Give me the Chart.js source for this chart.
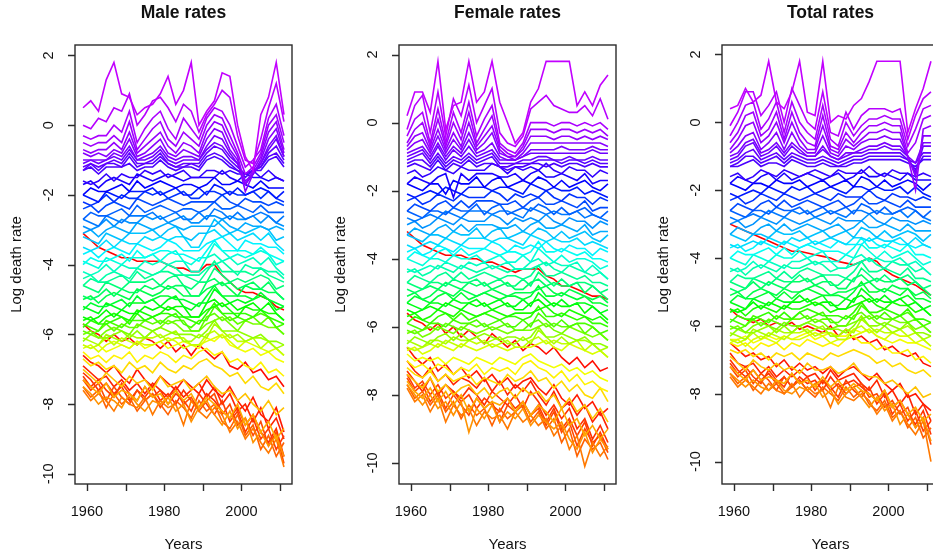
<!DOCTYPE html>
<html>
<head>
<meta charset="utf-8">
<title>Log death rates</title>
<script src="https://cdn.jsdelivr.net/npm/chart.js@4.4.1/dist/chart.umd.min.js"></script>
<style>
  html, body { margin: 0; padding: 0; background: #fff; overflow: hidden; }
  body { width: 933px; height: 559px; position: relative; }
  .panel { position: absolute; top: 0; width: 323px; height: 559px; }
  .panel canvas { display: block; }
</style>
</head>
<body>
<div class="panel" style="left:0px"><canvas id="maleChart" width="323" height="559"></canvas></div>
<div class="panel" style="left:324px"><canvas id="femaleChart" width="323" height="559"></canvas></div>
<div class="panel" style="left:647px"><canvas id="totalChart" width="323" height="559"></canvas></div>
<script>
// ==========================================
// DATA (log death rates)
// ==========================================
const years = [1959, 1961, 1963, 1965, 1967, 1969, 1971, 1973, 1975, 1977, 1979, 1981, 1983, 1985,
               1987, 1989, 1991, 1993, 1995, 1997, 1999, 2001, 2003, 2005, 2007, 2009, 2011];
const ages = [0, 1, 2, 3, 4, 5, 6, 8, 10, 12, 14, 16, 18, 20, 22,
              24, 26, 28, 30, 32, 34, 36, 38, 40, 42, 44, 46, 48, 50, 52, 54, 56,
              58, 60, 62, 64, 66, 68, 70, 72, 74, 76, 78, 80, 82, 84, 86, 88,
              90, 91, 92, 93, 94, 95, 96, 97, 98, 99, 100];
const yTicks = [-10, -8, -6, -4, -2, 0, 2];
const xTicks = [1960, 1970, 1980, 1990, 2000, 2010];
const xTickLabels = ['1960', '', '1980', '', '2000', ''];

const maleRates = [
  [-3.1,-3.3,-3.5,-3.6,-3.7,-3.8,-3.8,-3.9,-3.9,-3.9,-3.9,-4.0,-4.1,-4.1,-4.2,-4.2,-4.0,-4.0,-4.3,-4.5,-4.7,-4.8,-4.8,-4.9,-5.0,-5.2,-5.3],
  [-5.7,-5.9,-6.0,-6.2,-6.0,-6.2,-6.1,-6.3,-6.1,-6.2,-6.4,-6.2,-6.5,-6.3,-6.6,-6.3,-6.5,-6.7,-6.5,-6.9,-7.0,-6.8,-7.1,-7.0,-7.3,-7.2,-7.5],
  [-6.6,-6.8,-6.9,-7.1,-6.9,-7.2,-7.4,-7.0,-7.3,-7.5,-7.2,-7.4,-7.6,-7.3,-7.5,-7.7,-7.3,-7.6,-7.8,-7.5,-7.9,-8.2,-7.8,-8.3,-8.5,-8.1,-8.8],
  [-6.9,-7.1,-7.3,-7.2,-7.5,-7.3,-7.6,-7.4,-7.7,-7.4,-7.6,-7.8,-7.5,-7.8,-7.6,-7.4,-7.8,-7.5,-8.0,-7.7,-8.2,-8.0,-8.5,-8.1,-8.7,-8.4,-9.0],
  [-7.1,-7.3,-7.6,-7.4,-7.7,-7.5,-7.9,-7.6,-7.8,-7.5,-7.9,-7.7,-8.0,-7.6,-7.9,-8.1,-7.7,-7.9,-8.2,-8.4,-8.1,-8.6,-8.3,-8.8,-9.1,-8.7,-9.5],
  [-7.2,-7.5,-7.3,-7.6,-7.8,-7.4,-7.7,-7.9,-7.5,-7.8,-7.6,-8.0,-7.7,-7.9,-8.2,-7.7,-8.0,-8.3,-7.9,-8.5,-8.2,-8.8,-8.4,-9.0,-8.7,-9.3,-8.9],
  [-7.3,-7.6,-7.4,-7.9,-7.5,-7.8,-8.0,-7.6,-7.9,-7.7,-8.1,-7.8,-7.6,-8.0,-7.8,-8.2,-7.9,-7.7,-8.3,-8.0,-8.6,-8.4,-8.9,-8.5,-9.2,-8.8,-9.7],
  [-7.5,-7.8,-7.6,-8.1,-7.7,-8.0,-7.8,-8.2,-7.9,-7.7,-8.0,-8.3,-7.9,-8.1,-8.4,-7.9,-8.2,-8.0,-8.5,-8.7,-8.3,-8.9,-8.6,-9.3,-8.9,-9.5,-9.1],
  [-7.6,-7.9,-7.7,-7.9,-8.2,-7.8,-8.0,-8.1,-7.8,-8.3,-7.9,-8.1,-8.0,-8.6,-7.9,-8.2,-8.4,-8.1,-8.3,-8.8,-8.5,-9.0,-8.7,-9.1,-9.4,-9.0,-9.8],
  [-7.5,-7.7,-8.0,-7.8,-7.9,-8.1,-7.7,-8.0,-8.2,-7.9,-8.0,-7.8,-8.2,-8.0,-8.5,-8.1,-7.9,-8.3,-8.6,-8.2,-8.7,-8.4,-9.1,-8.8,-9.2,-8.9,-9.5],
  [-7.3,-7.5,-7.7,-7.4,-7.8,-7.6,-7.7,-7.9,-7.5,-7.8,-7.7,-8.0,-7.6,-7.9,-7.7,-8.1,-7.8,-8.0,-8.2,-8.4,-8.0,-8.6,-8.3,-8.8,-8.5,-9.0,-8.7],
  [-7.0,-7.2,-7.4,-7.1,-7.3,-7.5,-7.2,-7.4,-7.3,-7.6,-7.2,-7.5,-7.4,-7.3,-7.6,-7.4,-7.2,-7.5,-7.7,-7.6,-7.9,-7.7,-8.0,-8.2,-7.9,-8.3,-8.1],
  [-6.7,-6.9,-6.8,-7.0,-6.9,-7.1,-6.8,-7.0,-6.9,-7.1,-6.8,-7.0,-7.1,-6.9,-7.0,-6.8,-6.7,-6.9,-7.0,-7.2,-7.1,-7.4,-7.2,-7.5,-7.6,-7.4,-7.7],
  [-6.5,-6.7,-6.6,-6.8,-6.6,-6.7,-6.5,-6.8,-6.6,-6.7,-6.5,-6.6,-6.8,-6.6,-6.7,-6.5,-6.4,-6.6,-6.5,-6.8,-6.7,-6.9,-7.0,-6.8,-7.1,-7.0,-7.2],
  [-6.3,-6.4,-6.3,-6.5,-6.4,-6.3,-6.4,-6.2,-6.4,-6.3,-6.2,-6.4,-6.3,-6.2,-6.3,-6.4,-6.1,-6.2,-6.0,-6.3,-6.4,-6.5,-6.4,-6.6,-6.5,-6.7,-6.8],
  [-6.4,-6.3,-6.5,-6.3,-6.2,-6.3,-6.4,-6.2,-6.3,-6.3,-6.2,-6.1,-6.2,-6.4,-6.3,-6.3,-6.2,-6.1,-6.0,-6.2,-6.4,-6.2,-6.3,-6.4,-6.5,-6.4,-6.6],
  [-6.3,-6.4,-6.3,-6.1,-6.3,-6.1,-6.2,-6.3,-6.1,-6.1,-6.0,-6.2,-6.1,-6.1,-6.3,-6.3,-6.0,-5.9,-6.1,-6.0,-6.2,-6.2,-6.1,-6.4,-6.2,-6.4,-6.6],
  [-6.1,-6.2,-6.3,-6.0,-6.1,-6.2,-6.0,-6.1,-6.1,-5.9,-6.1,-6.0,-5.9,-6.2,-6.2,-6.0,-6.1,-5.7,-5.9,-6.1,-6.0,-6.2,-6.1,-6.1,-6.2,-6.4,-6.3],
  [-6.2,-6.0,-6.1,-6.1,-6.0,-5.9,-6.1,-5.9,-6.1,-5.9,-5.8,-5.9,-6.0,-6.0,-6.0,-6.1,-5.9,-5.6,-5.9,-5.9,-5.9,-6.0,-6.1,-6.0,-6.2,-6.2,-6.3],
  [-6.0,-5.9,-6.1,-5.9,-5.8,-5.9,-6.0,-5.7,-5.8,-5.9,-5.8,-5.6,-5.7,-5.9,-5.9,-5.9,-5.7,-5.6,-5.5,-5.7,-5.9,-5.6,-5.7,-5.7,-5.8,-5.8,-6.0],
  [-5.9,-6.0,-5.9,-5.7,-5.9,-5.7,-5.8,-5.8,-5.6,-5.7,-5.6,-5.7,-5.6,-5.6,-5.9,-5.9,-5.5,-5.4,-5.6,-5.5,-5.7,-5.6,-5.5,-5.7,-5.5,-5.8,-6.0],
  [-5.7,-5.8,-5.9,-5.6,-5.7,-5.8,-5.6,-5.6,-5.6,-5.5,-5.7,-5.5,-5.4,-5.7,-5.8,-5.6,-5.6,-5.2,-5.4,-5.6,-5.5,-5.6,-5.5,-5.4,-5.5,-5.8,-5.7],
  [-5.8,-5.6,-5.7,-5.7,-5.6,-5.5,-5.7,-5.4,-5.6,-5.5,-5.4,-5.4,-5.5,-5.5,-5.6,-5.7,-5.4,-5.1,-5.4,-5.4,-5.4,-5.4,-5.5,-5.3,-5.5,-5.6,-5.7],
  [-5.6,-5.5,-5.7,-5.5,-5.4,-5.5,-5.6,-5.3,-5.4,-5.5,-5.4,-5.2,-5.3,-5.5,-5.5,-5.5,-5.3,-5.2,-5.1,-5.3,-5.5,-5.2,-5.3,-5.3,-5.4,-5.4,-5.6],
  [-5.5,-5.6,-5.5,-5.3,-5.5,-5.3,-5.4,-5.4,-5.2,-5.3,-5.2,-5.3,-5.2,-5.2,-5.5,-5.5,-5.1,-5.0,-5.2,-5.1,-5.3,-5.2,-5.1,-5.3,-5.1,-5.4,-5.6],
  [-5.2,-5.3,-5.4,-5.1,-5.2,-5.3,-5.1,-5.1,-5.1,-5.0,-5.2,-5.0,-4.9,-5.2,-5.3,-5.1,-5.1,-4.7,-4.9,-5.1,-5.0,-5.1,-5.0,-4.9,-5.0,-5.3,-5.2],
  [-5.3,-5.1,-5.2,-5.2,-5.1,-5.0,-5.2,-4.9,-5.1,-5.0,-4.9,-4.9,-5.0,-5.0,-5.1,-5.2,-4.9,-4.6,-4.9,-4.9,-4.9,-4.9,-5.0,-4.8,-5.0,-5.1,-5.2],
  [-5.0,-4.9,-5.1,-4.9,-4.8,-4.9,-5.0,-4.7,-4.8,-4.9,-4.8,-4.6,-4.7,-4.9,-4.9,-4.9,-4.7,-4.6,-4.5,-4.7,-4.9,-4.6,-4.7,-4.7,-4.8,-4.8,-5.0],
  [-4.9,-5.0,-4.9,-4.7,-4.9,-4.7,-4.8,-4.8,-4.6,-4.7,-4.6,-4.7,-4.6,-4.6,-4.9,-4.9,-4.5,-4.4,-4.6,-4.5,-4.7,-4.6,-4.5,-4.7,-4.5,-4.8,-5.0],
  [-4.6,-4.7,-4.8,-4.5,-4.6,-4.7,-4.5,-4.5,-4.5,-4.4,-4.6,-4.4,-4.3,-4.6,-4.7,-4.5,-4.5,-4.1,-4.3,-4.5,-4.4,-4.5,-4.4,-4.3,-4.4,-4.7,-4.6],
  [-4.6,-4.4,-4.5,-4.5,-4.4,-4.3,-4.5,-4.2,-4.4,-4.3,-4.2,-4.2,-4.3,-4.3,-4.4,-4.5,-4.2,-3.9,-4.2,-4.2,-4.2,-4.2,-4.3,-4.1,-4.3,-4.4,-4.5],
  [-4.4,-4.3,-4.5,-4.3,-4.2,-4.3,-4.4,-4.1,-4.2,-4.3,-4.2,-4.0,-4.1,-4.3,-4.3,-4.3,-4.1,-4.0,-3.9,-4.1,-4.3,-4.0,-4.1,-4.1,-4.2,-4.2,-4.4],
  [-4.2,-4.3,-4.2,-4.0,-4.2,-4.0,-4.1,-4.1,-3.9,-4.0,-3.9,-4.0,-3.9,-3.9,-4.2,-4.2,-3.8,-3.7,-3.9,-3.8,-4.0,-3.9,-3.8,-4.0,-3.8,-4.1,-4.3],
  [-3.9,-4.0,-4.1,-3.8,-3.9,-4.0,-3.8,-3.8,-3.8,-3.7,-3.9,-3.7,-3.6,-3.9,-4.0,-3.8,-3.8,-3.4,-3.6,-3.8,-3.7,-3.8,-3.7,-3.6,-3.7,-4.0,-3.9],
  [-4.0,-3.8,-3.9,-3.9,-3.8,-3.7,-3.9,-3.6,-3.8,-3.7,-3.6,-3.6,-3.7,-3.7,-3.8,-3.9,-3.6,-3.3,-3.6,-3.6,-3.6,-3.6,-3.7,-3.5,-3.7,-3.8,-3.9],
  [-3.7,-3.6,-3.8,-3.6,-3.5,-3.6,-3.7,-3.4,-3.5,-3.6,-3.5,-3.3,-3.4,-3.6,-3.6,-3.6,-3.4,-3.3,-3.2,-3.4,-3.6,-3.3,-3.4,-3.4,-3.5,-3.5,-3.7],
  [-3.5,-3.6,-3.5,-3.3,-3.5,-3.3,-3.4,-3.4,-3.2,-3.3,-3.2,-3.3,-3.2,-3.2,-3.5,-3.5,-3.1,-3.0,-3.2,-3.1,-3.3,-3.2,-3.1,-3.3,-3.1,-3.4,-3.6],
  [-3.2,-3.3,-3.4,-3.1,-3.2,-3.3,-3.1,-3.1,-3.1,-3.0,-3.2,-3.0,-2.9,-3.2,-3.3,-3.1,-3.1,-2.7,-2.9,-3.1,-3.0,-3.1,-3.0,-2.9,-3.0,-3.3,-3.2],
  [-3.1,-3.0,-3.2,-3.0,-2.9,-3.0,-3.1,-2.8,-2.9,-3.0,-2.9,-2.8,-2.9,-3.0,-2.9,-2.9,-2.9,-2.9,-2.7,-2.9,-3.0,-2.8,-2.9,-2.9,-3.0,-2.9,-3.0],
  [-2.9,-3.0,-2.9,-2.7,-2.9,-2.7,-2.8,-2.8,-2.6,-2.7,-2.6,-2.8,-2.7,-2.6,-2.8,-2.8,-2.6,-2.6,-2.7,-2.6,-2.7,-2.7,-2.6,-2.8,-2.6,-2.8,-2.9],
  [-2.7,-2.8,-2.9,-2.6,-2.7,-2.8,-2.6,-2.6,-2.6,-2.5,-2.7,-2.6,-2.5,-2.7,-2.7,-2.5,-2.7,-2.4,-2.5,-2.7,-2.5,-2.7,-2.6,-2.5,-2.6,-2.8,-2.6],
  [-2.7,-2.5,-2.6,-2.6,-2.5,-2.4,-2.6,-2.3,-2.5,-2.4,-2.3,-2.4,-2.5,-2.4,-2.4,-2.5,-2.4,-2.2,-2.4,-2.4,-2.3,-2.4,-2.5,-2.3,-2.5,-2.5,-2.5],
  [-2.4,-2.3,-2.5,-2.3,-2.2,-2.3,-2.4,-2.1,-2.2,-2.3,-2.2,-2.1,-2.2,-2.3,-2.2,-2.2,-2.2,-2.2,-2.0,-2.2,-2.3,-2.1,-2.2,-2.2,-2.3,-2.2,-2.3],
  [-2.2,-2.3,-2.2,-2.0,-2.2,-2.0,-2.1,-2.1,-1.9,-2.0,-1.9,-2.1,-2.0,-1.9,-2.1,-2.1,-1.9,-1.9,-2.0,-1.9,-2.0,-2.0,-1.9,-2.1,-1.9,-2.1,-2.2],
  [-2.0,-2.1,-2.2,-1.9,-2.0,-2.1,-1.9,-1.9,-1.9,-1.8,-2.0,-1.9,-1.8,-2.0,-2.0,-1.8,-2.0,-1.7,-1.8,-2.0,-1.8,-2.0,-1.9,-1.8,-1.9,-2.1,-1.9],
  [-2.0,-1.8,-1.9,-1.9,-1.8,-1.7,-1.9,-1.6,-1.8,-1.7,-1.6,-1.7,-1.8,-1.7,-1.7,-1.8,-1.7,-1.5,-1.7,-1.7,-1.6,-1.7,-1.8,-1.6,-1.8,-1.8,-1.8],
  [-1.7,-1.6,-1.8,-1.6,-1.5,-1.6,-1.7,-1.4,-1.5,-1.6,-1.5,-1.4,-1.5,-1.6,-1.5,-1.5,-1.5,-1.5,-1.3,-1.5,-1.6,-1.4,-1.5,-1.5,-1.6,-1.5,-1.6],
  [-1.6,-1.7,-1.6,-1.4,-1.6,-1.4,-1.5,-1.5,-1.3,-1.4,-1.3,-1.5,-1.4,-1.3,-1.5,-1.5,-1.3,-1.3,-1.4,-1.3,-1.4,-1.4,-1.3,-1.5,-1.3,-1.5,-1.6],
  [-1.3,-1.2,-1.4,-1.2,-1.2,-1.2,-1.1,-1.3,-1.2,-1.2,-1.0,-1.2,-1.3,-1.2,-1.2,-1.3,-1.0,-0.9,-1.0,-1.2,-1.3,-1.4,-1.3,-1.3,-1.0,-0.9,-1.2],
  [-1.3,-1.1,-1.3,-1.1,-1.1,-1.2,-0.9,-1.2,-1.1,-1.1,-0.9,-1.1,-1.2,-1.2,-1.1,-1.2,-0.9,-0.8,-0.9,-1.1,-1.3,-1.5,-1.3,-1.2,-0.9,-0.8,-1.1],
  [-1.2,-1.1,-1.2,-1.1,-1.0,-1.1,-0.8,-1.1,-1.1,-1.0,-0.8,-1.1,-1.2,-1.1,-1.1,-1.1,-0.8,-0.6,-0.7,-1.0,-1.2,-1.4,-1.3,-1.2,-0.8,-0.6,-1.0],
  [-1.1,-1.0,-1.1,-1.0,-0.9,-1.0,-0.7,-1.0,-1.0,-0.9,-0.7,-1.0,-1.1,-1.0,-1.0,-1.0,-0.7,-0.5,-0.6,-0.9,-1.1,-1.7,-1.4,-1.1,-0.7,-0.4,-0.9],
  [-1.0,-1.0,-1.0,-1.0,-0.8,-0.9,-0.6,-1.0,-0.9,-0.8,-0.6,-0.9,-1.0,-0.9,-0.9,-1.0,-0.6,-0.3,-0.4,-0.8,-1.1,-1.6,-1.4,-1.1,-0.6,-0.3,-0.9],
  [-0.8,-0.9,-0.8,-0.9,-0.7,-0.8,-0.4,-0.9,-0.8,-0.6,-0.4,-0.8,-0.9,-0.7,-0.8,-0.9,-0.4,-0.1,-0.2,-0.7,-1.0,-1.9,-1.4,-1.0,-0.4,-0.1,-0.8],
  [-0.7,-0.8,-0.7,-0.7,-0.5,-0.7,-0.2,-0.8,-0.6,-0.4,-0.2,-0.6,-0.8,-0.5,-0.6,-0.8,-0.2,0.1,0.0,-0.5,-0.9,-1.7,-1.3,-0.9,-0.2,0.1,-0.7],
  [-0.5,-0.6,-0.5,-0.5,-0.3,-0.5,0.1,-0.7,-0.4,-0.1,0.1,-0.4,-0.6,-0.2,-0.4,-0.6,0.0,0.3,0.2,-0.3,-0.8,-1.4,-1.2,-0.8,0.0,0.3,-0.5],
  [-0.3,-0.4,-0.3,-0.3,0.0,-0.2,0.4,-0.5,-0.1,0.2,0.4,-0.1,-0.4,0.2,-0.1,-0.4,0.2,0.5,0.4,0.0,-0.6,-1.2,-1.0,-0.7,0.2,0.6,-0.3],
  [0.0,-0.1,0.2,0.1,0.5,0.4,0.9,0.0,0.3,0.7,0.8,0.5,0.1,0.6,0.4,-0.2,0.3,0.6,1.0,0.8,-0.3,-1.0,-1.1,-0.4,0.5,1.2,0.1],
  [0.5,0.7,0.4,1.3,1.8,0.9,0.8,0.3,0.5,0.6,0.9,1.4,0.6,1.0,1.8,0.0,0.4,0.7,1.5,1.4,0.0,-0.9,-1.3,0.3,0.8,1.8,0.3]
];

const femaleRates = [
  [-3.2,-3.4,-3.6,-3.7,-3.8,-3.9,-3.9,-3.9,-4.0,-4.0,-4.1,-4.1,-4.2,-4.3,-4.4,-4.3,-4.3,-4.3,-4.5,-4.6,-4.8,-4.8,-4.9,-5.0,-5.1,-5.1,-5.2],
  [-5.6,-5.8,-5.9,-6.1,-5.9,-6.2,-6.0,-6.3,-6.1,-6.3,-6.5,-6.2,-6.4,-6.6,-6.4,-6.7,-6.5,-6.6,-6.8,-6.6,-6.9,-7.1,-6.9,-7.2,-7.0,-7.3,-7.2],
  [-6.6,-6.9,-7.1,-6.9,-7.3,-7.1,-7.4,-7.2,-7.5,-7.3,-7.6,-7.4,-7.7,-7.5,-7.8,-7.6,-7.5,-7.8,-8.0,-7.7,-8.1,-8.3,-8.0,-8.4,-8.2,-8.6,-8.4],
  [-7.0,-7.3,-7.5,-7.2,-7.6,-7.4,-7.7,-7.5,-7.6,-7.8,-7.5,-7.9,-7.6,-8.0,-7.7,-7.9,-7.6,-8.0,-8.3,-7.9,-8.4,-8.2,-8.6,-8.3,-8.8,-8.5,-9.0],
  [-7.3,-7.6,-7.9,-7.5,-8.0,-7.7,-7.9,-8.1,-7.8,-8.0,-8.3,-7.9,-8.1,-8.3,-8.0,-8.4,-7.9,-8.2,-8.6,-8.3,-8.7,-8.4,-9.0,-8.7,-9.3,-8.9,-9.4],
  [-7.4,-7.8,-7.6,-8.0,-7.7,-8.1,-7.9,-8.2,-8.0,-8.4,-8.1,-8.3,-8.5,-8.1,-8.4,-8.2,-8.6,-8.3,-8.8,-8.4,-9.0,-8.7,-9.2,-8.8,-9.5,-9.1,-9.6],
  [-7.5,-7.9,-7.7,-8.2,-7.9,-8.4,-8.0,-8.3,-8.6,-8.1,-8.4,-8.2,-8.8,-8.3,-8.5,-8.2,-8.6,-8.4,-8.9,-8.5,-9.1,-8.8,-9.5,-9.0,-9.4,-9.2,-9.7],
  [-7.7,-8.1,-7.9,-8.3,-8.0,-8.5,-8.2,-8.7,-8.3,-8.6,-8.4,-8.9,-8.4,-8.7,-8.5,-8.3,-8.8,-8.5,-9.0,-8.7,-9.4,-9.0,-9.8,-9.3,-9.6,-9.4,-9.9],
  [-7.8,-8.2,-8.0,-8.5,-8.1,-8.8,-8.3,-8.6,-8.4,-8.9,-8.5,-8.7,-8.6,-9.0,-8.5,-8.8,-8.6,-8.9,-8.7,-9.2,-8.9,-9.6,-9.2,-10.1,-9.4,-9.8,-9.5],
  [-7.7,-8.0,-8.3,-8.0,-8.4,-8.2,-8.6,-8.2,-9.1,-8.4,-8.7,-8.3,-8.8,-8.5,-8.7,-8.4,-8.9,-8.6,-8.8,-9.0,-8.8,-9.3,-9.6,-9.1,-9.7,-9.3,-9.6],
  [-7.6,-7.9,-8.1,-7.8,-8.2,-7.9,-8.3,-8.0,-8.5,-8.1,-8.4,-8.2,-8.3,-8.1,-8.5,-8.2,-8.6,-8.3,-8.5,-8.8,-8.4,-8.9,-8.7,-9.2,-8.9,-9.3,-9.0],
  [-7.4,-7.6,-7.8,-7.5,-7.9,-7.7,-8.0,-7.8,-7.7,-8.0,-7.8,-8.1,-7.9,-7.8,-8.1,-7.8,-8.0,-7.9,-8.2,-8.0,-8.4,-8.1,-8.5,-8.3,-8.7,-8.4,-8.8],
  [-7.2,-7.4,-7.5,-7.3,-7.6,-7.4,-7.6,-7.5,-7.4,-7.7,-7.5,-7.6,-7.7,-7.4,-7.6,-7.5,-7.3,-7.6,-7.5,-7.8,-7.6,-7.9,-7.7,-8.0,-8.1,-7.8,-8.2],
  [-7.0,-7.2,-7.1,-7.3,-7.1,-7.2,-7.4,-7.2,-7.3,-7.1,-7.4,-7.2,-7.3,-7.2,-7.4,-7.1,-7.0,-7.2,-7.3,-7.5,-7.3,-7.6,-7.4,-7.7,-7.6,-7.8,-7.9],
  [-6.8,-7.0,-6.9,-7.0,-6.9,-7.1,-6.9,-7.0,-7.1,-6.9,-7.0,-7.1,-6.9,-7.0,-7.1,-6.9,-6.8,-7.0,-7.1,-7.2,-7.1,-7.3,-7.2,-7.4,-7.3,-7.5,-7.6],
  [-6.7,-6.6,-6.8,-6.7,-6.5,-6.6,-6.7,-6.5,-6.6,-6.7,-6.6,-6.5,-6.6,-6.7,-6.6,-6.6,-6.6,-6.5,-6.4,-6.6,-6.7,-6.5,-6.6,-6.7,-6.8,-6.7,-6.9],
  [-6.6,-6.7,-6.6,-6.5,-6.6,-6.4,-6.5,-6.6,-6.4,-6.5,-6.4,-6.6,-6.5,-6.4,-6.6,-6.6,-6.4,-6.3,-6.5,-6.4,-6.5,-6.5,-6.4,-6.7,-6.5,-6.7,-6.9],
  [-6.4,-6.5,-6.6,-6.4,-6.4,-6.5,-6.3,-6.4,-6.4,-6.3,-6.5,-6.4,-6.3,-6.5,-6.5,-6.3,-6.5,-6.1,-6.3,-6.5,-6.3,-6.5,-6.4,-6.4,-6.5,-6.7,-6.6],
  [-6.5,-6.3,-6.4,-6.5,-6.3,-6.2,-6.4,-6.2,-6.4,-6.3,-6.2,-6.3,-6.4,-6.3,-6.3,-6.4,-6.3,-6.0,-6.3,-6.3,-6.2,-6.3,-6.4,-6.3,-6.5,-6.5,-6.6],
  [-6.2,-6.1,-6.3,-6.2,-6.0,-6.1,-6.2,-6.0,-6.1,-6.2,-6.1,-6.0,-6.1,-6.2,-6.1,-6.1,-6.1,-6.0,-5.9,-6.1,-6.2,-6.0,-6.1,-6.2,-6.3,-6.2,-6.4],
  [-6.1,-6.2,-6.1,-6.0,-6.1,-5.9,-6.0,-6.1,-5.9,-6.0,-5.9,-6.1,-6.0,-5.9,-6.1,-6.1,-5.9,-5.8,-6.0,-5.9,-6.0,-6.0,-5.9,-6.2,-6.0,-6.2,-6.4],
  [-5.9,-6.0,-6.1,-5.9,-5.9,-6.0,-5.8,-5.9,-5.9,-5.8,-6.0,-5.9,-5.8,-6.0,-6.0,-5.8,-6.0,-5.6,-5.8,-6.0,-5.8,-6.0,-5.9,-5.9,-6.0,-6.2,-6.1],
  [-5.9,-5.7,-5.8,-5.9,-5.7,-5.6,-5.8,-5.6,-5.8,-5.7,-5.6,-5.7,-5.8,-5.7,-5.7,-5.8,-5.7,-5.4,-5.7,-5.7,-5.6,-5.7,-5.8,-5.7,-5.9,-5.9,-6.0],
  [-5.7,-5.6,-5.8,-5.7,-5.5,-5.6,-5.7,-5.5,-5.6,-5.7,-5.6,-5.5,-5.6,-5.7,-5.6,-5.6,-5.6,-5.5,-5.4,-5.6,-5.7,-5.5,-5.6,-5.7,-5.8,-5.7,-5.9],
  [-5.5,-5.6,-5.5,-5.4,-5.5,-5.3,-5.4,-5.5,-5.3,-5.4,-5.3,-5.5,-5.4,-5.3,-5.5,-5.5,-5.3,-5.2,-5.4,-5.3,-5.4,-5.4,-5.3,-5.6,-5.4,-5.6,-5.8],
  [-5.3,-5.4,-5.5,-5.3,-5.3,-5.4,-5.2,-5.3,-5.3,-5.2,-5.4,-5.3,-5.2,-5.4,-5.4,-5.2,-5.4,-5.0,-5.2,-5.4,-5.2,-5.4,-5.3,-5.3,-5.4,-5.6,-5.5],
  [-5.3,-5.1,-5.2,-5.3,-5.1,-5.0,-5.2,-5.0,-5.2,-5.1,-5.0,-5.1,-5.2,-5.1,-5.1,-5.2,-5.1,-4.8,-5.1,-5.1,-5.0,-5.1,-5.2,-5.1,-5.3,-5.3,-5.4],
  [-5.1,-5.0,-5.2,-5.1,-4.9,-5.0,-5.1,-4.9,-5.0,-5.1,-5.0,-4.9,-5.0,-5.1,-5.0,-5.0,-5.0,-4.9,-4.8,-5.0,-5.1,-4.9,-5.0,-5.1,-5.2,-5.1,-5.3],
  [-4.9,-5.0,-4.9,-4.8,-4.9,-4.7,-4.8,-4.9,-4.7,-4.8,-4.7,-4.9,-4.8,-4.7,-4.9,-4.9,-4.7,-4.6,-4.8,-4.7,-4.8,-4.8,-4.7,-5.0,-4.8,-5.0,-5.2],
  [-4.7,-4.8,-4.9,-4.7,-4.7,-4.8,-4.6,-4.7,-4.7,-4.6,-4.8,-4.7,-4.6,-4.8,-4.8,-4.6,-4.8,-4.4,-4.6,-4.8,-4.6,-4.8,-4.7,-4.7,-4.8,-5.0,-4.9],
  [-4.7,-4.5,-4.6,-4.7,-4.5,-4.4,-4.6,-4.4,-4.6,-4.5,-4.4,-4.5,-4.6,-4.5,-4.5,-4.6,-4.5,-4.2,-4.5,-4.5,-4.4,-4.5,-4.6,-4.5,-4.7,-4.7,-4.8],
  [-4.4,-4.3,-4.5,-4.4,-4.2,-4.3,-4.4,-4.2,-4.3,-4.4,-4.3,-4.2,-4.3,-4.4,-4.3,-4.3,-4.3,-4.2,-4.1,-4.3,-4.4,-4.2,-4.3,-4.4,-4.5,-4.4,-4.6],
  [-4.3,-4.4,-4.3,-4.2,-4.3,-4.1,-4.2,-4.3,-4.1,-4.2,-4.1,-4.3,-4.2,-4.1,-4.3,-4.3,-4.1,-4.0,-4.2,-4.1,-4.2,-4.2,-4.1,-4.4,-4.2,-4.4,-4.6],
  [-4.0,-4.1,-4.2,-4.0,-4.0,-4.1,-3.9,-4.0,-4.0,-3.9,-4.1,-4.0,-3.9,-4.1,-4.1,-3.9,-4.1,-3.7,-3.9,-4.1,-3.9,-4.1,-4.0,-4.0,-4.1,-4.3,-4.2],
  [-4.0,-3.8,-3.9,-4.0,-3.8,-3.7,-3.9,-3.7,-3.9,-3.8,-3.7,-3.8,-3.9,-3.8,-3.8,-3.9,-3.8,-3.5,-3.8,-3.8,-3.7,-3.8,-3.9,-3.8,-4.0,-4.0,-4.1],
  [-3.8,-3.7,-3.9,-3.8,-3.6,-3.7,-3.8,-3.6,-3.7,-3.7,-3.7,-3.5,-3.6,-3.8,-3.6,-3.7,-3.6,-3.7,-3.5,-3.7,-3.8,-3.6,-3.7,-3.7,-3.9,-3.7,-3.8],
  [-3.6,-3.7,-3.6,-3.5,-3.6,-3.4,-3.5,-3.6,-3.4,-3.4,-3.4,-3.5,-3.4,-3.4,-3.5,-3.6,-3.3,-3.4,-3.5,-3.4,-3.5,-3.5,-3.4,-3.6,-3.5,-3.6,-3.7],
  [-3.3,-3.4,-3.5,-3.3,-3.3,-3.4,-3.2,-3.3,-3.3,-3.1,-3.4,-3.2,-3.1,-3.4,-3.3,-3.2,-3.3,-3.1,-3.2,-3.4,-3.2,-3.4,-3.3,-3.2,-3.4,-3.5,-3.3],
  [-3.3,-3.1,-3.2,-3.3,-3.1,-3.0,-3.2,-3.0,-3.2,-3.0,-3.0,-3.0,-3.1,-3.1,-3.0,-3.2,-3.0,-2.9,-3.1,-3.1,-3.0,-3.1,-3.2,-3.0,-3.3,-3.2,-3.2],
  [-3.0,-2.9,-3.1,-3.0,-2.8,-2.9,-3.0,-2.8,-2.9,-2.9,-2.9,-2.7,-2.8,-3.0,-2.8,-2.9,-2.8,-2.9,-2.7,-2.9,-3.0,-2.8,-2.9,-2.9,-3.1,-2.9,-3.0],
  [-2.8,-2.9,-2.8,-2.7,-2.8,-2.6,-2.7,-2.8,-2.6,-2.6,-2.6,-2.7,-2.6,-2.6,-2.7,-2.8,-2.5,-2.6,-2.7,-2.6,-2.7,-2.7,-2.6,-2.8,-2.7,-2.8,-2.9],
  [-2.6,-2.7,-2.8,-2.6,-2.6,-2.7,-2.5,-2.6,-2.6,-2.4,-2.7,-2.5,-2.4,-2.7,-2.6,-2.5,-2.6,-2.4,-2.5,-2.7,-2.5,-2.7,-2.6,-2.5,-2.7,-2.8,-2.6],
  [-2.6,-2.4,-2.5,-2.6,-2.4,-2.3,-2.5,-2.3,-2.5,-2.3,-2.3,-2.3,-2.4,-2.4,-2.3,-2.5,-2.3,-2.2,-2.4,-2.4,-2.3,-2.4,-2.5,-2.3,-2.6,-2.5,-2.5],
  [-2.3,-2.2,-2.4,-2.3,-2.1,-2.2,-2.3,-2.1,-2.2,-2.2,-2.2,-2.0,-2.1,-2.3,-2.1,-2.2,-2.1,-2.2,-2.0,-2.2,-2.3,-2.1,-2.2,-2.2,-2.4,-2.2,-2.3],
  [-2.1,-2.2,-2.1,-2.0,-2.1,-1.9,-2.0,-2.1,-1.9,-1.9,-1.9,-2.0,-1.9,-1.9,-2.0,-2.1,-1.8,-1.9,-2.0,-1.9,-2.0,-2.0,-1.9,-2.1,-2.0,-2.1,-2.2],
  [-1.8,-1.9,-2.0,-1.8,-1.8,-2.1,-1.7,-1.8,-1.8,-1.6,-1.9,-1.7,-1.6,-1.9,-1.8,-1.7,-1.8,-1.6,-1.7,-1.9,-1.7,-1.9,-1.8,-1.7,-1.9,-2.0,-1.8],
  [-1.8,-1.6,-1.7,-1.8,-1.6,-1.5,-2.2,-1.5,-1.7,-1.5,-1.5,-1.5,-1.6,-1.6,-1.5,-1.7,-1.5,-1.4,-1.6,-1.6,-1.5,-1.6,-1.7,-1.5,-1.8,-1.7,-1.7],
  [-1.5,-1.4,-1.6,-1.5,-1.3,-1.4,-1.5,-1.3,-1.4,-1.4,-1.4,-1.2,-1.3,-1.5,-1.3,-1.4,-1.3,-1.4,-1.2,-1.4,-1.5,-1.3,-1.4,-1.4,-1.6,-1.4,-1.5],
  [-1.3,-1.2,-1.3,-1.4,-1.1,-1.4,-1.2,-1.3,-1.1,-1.3,-1.2,-1.2,-1.3,-1.4,-1.3,-1.3,-1.2,-1.2,-1.3,-1.2,-1.3,-1.2,-1.2,-1.3,-1.2,-1.3,-1.3],
  [-1.2,-1.1,-1.1,-1.3,-1.0,-1.3,-1.1,-1.2,-1.0,-1.2,-1.1,-1.0,-1.3,-1.3,-1.2,-1.2,-1.2,-1.1,-1.1,-1.1,-1.2,-1.1,-1.1,-1.2,-1.1,-1.2,-1.2],
  [-1.1,-1.0,-0.9,-1.2,-0.9,-1.2,-1.0,-1.1,-0.9,-1.1,-1.0,-0.9,-1.2,-1.2,-1.2,-1.1,-1.1,-1.0,-1.0,-1.1,-1.1,-1.0,-1.1,-1.1,-1.0,-1.1,-1.1],
  [-1.0,-0.9,-0.8,-1.1,-0.7,-1.1,-0.8,-1.0,-0.7,-1.0,-0.9,-0.8,-1.1,-1.1,-1.1,-1.0,-0.9,-0.9,-0.9,-0.9,-0.9,-0.9,-0.9,-0.9,-0.8,-0.9,-0.9],
  [-0.9,-0.8,-0.7,-1.0,-0.6,-1.0,-0.7,-0.9,-0.5,-0.9,-0.8,-0.6,-1.0,-1.1,-1.1,-1.0,-0.8,-0.8,-0.8,-0.8,-0.7,-0.8,-0.8,-0.8,-0.7,-0.8,-0.8],
  [-0.8,-0.6,-0.5,-0.9,-0.4,-0.9,-0.5,-0.8,-0.3,-0.8,-0.6,-0.3,-0.9,-1.0,-1.1,-0.9,-0.6,-0.6,-0.6,-0.6,-0.6,-0.6,-0.6,-0.6,-0.6,-0.6,-0.7],
  [-0.7,-0.4,-0.3,-0.8,-0.2,-0.8,-0.3,-0.7,0.0,-0.7,-0.4,-0.1,-0.8,-1.0,-1.0,-0.8,-0.4,-0.4,-0.4,-0.5,-0.4,-0.4,-0.5,-0.4,-0.5,-0.4,-0.5],
  [-0.6,-0.2,0.0,-0.7,0.1,-0.7,0.0,-0.5,0.3,-0.6,-0.2,0.2,-0.7,-0.9,-1.0,-0.7,-0.2,-0.2,-0.2,-0.3,-0.2,-0.2,-0.3,-0.2,-0.3,-0.2,-0.4],
  [-0.4,0.1,0.3,-0.6,0.4,-0.6,0.3,-0.3,0.6,-0.4,0.1,0.5,-0.6,-0.8,-0.9,-0.6,0.0,0.0,0.0,-0.1,0.0,0.0,-0.1,0.0,-0.1,0.0,-0.2],
  [-0.2,0.5,0.8,-0.3,0.9,-0.4,0.7,0.2,1.1,0.0,0.5,1.0,-0.3,-0.6,-0.7,-0.4,0.4,0.6,0.8,0.5,0.4,0.3,0.3,0.5,0.2,0.7,0.1],
  [0.2,0.9,0.9,0.3,1.8,-0.2,0.5,0.6,1.8,0.6,0.9,1.8,0.6,0.0,-0.6,-0.3,0.6,1.0,1.8,1.8,1.8,1.8,0.5,0.9,0.5,1.1,1.4]
];

const totalRates = [
  [-3.0,-3.1,-3.2,-3.3,-3.4,-3.5,-3.6,-3.7,-3.8,-3.8,-3.85,-3.9,-3.95,-4.0,-4.1,-4.15,-4.2,-4.1,-4.0,-4.1,-4.35,-4.5,-4.6,-4.7,-4.8,-4.95,-5.1],
  [-5.5,-5.7,-5.8,-5.9,-5.8,-6.0,-5.9,-6.0,-5.9,-6.1,-6.0,-6.1,-6.2,-6.0,-6.3,-6.1,-6.4,-6.3,-6.5,-6.4,-6.7,-6.6,-6.8,-6.9,-6.8,-7.1,-7.2],
  [-6.5,-6.7,-6.9,-6.8,-7.0,-6.9,-7.2,-7.0,-7.3,-7.1,-7.3,-7.2,-7.4,-7.2,-7.5,-7.3,-7.2,-7.4,-7.6,-7.4,-7.7,-7.9,-7.7,-8.1,-8.0,-8.3,-8.5],
  [-6.8,-7.1,-7.2,-7.1,-7.4,-7.2,-7.5,-7.3,-7.5,-7.3,-7.5,-7.4,-7.7,-7.3,-7.6,-7.5,-7.4,-7.7,-7.9,-7.6,-8.1,-7.9,-8.3,-8.0,-8.6,-8.3,-8.8],
  [-7.0,-7.3,-7.5,-7.3,-7.6,-7.4,-7.7,-7.5,-7.8,-7.5,-7.7,-7.6,-7.9,-7.5,-7.8,-7.7,-7.6,-7.8,-8.0,-8.2,-7.9,-8.4,-8.2,-8.6,-8.9,-8.5,-9.2],
  [-7.1,-7.4,-7.2,-7.5,-7.7,-7.3,-7.6,-7.8,-7.4,-7.7,-7.5,-7.9,-7.6,-7.8,-8.1,-7.6,-7.9,-8.1,-7.8,-8.3,-8.0,-8.6,-8.3,-8.8,-8.5,-9.1,-8.8],
  [-7.2,-7.5,-7.3,-7.7,-7.4,-7.6,-7.9,-7.5,-7.8,-7.6,-7.9,-7.7,-7.6,-7.9,-7.7,-8.0,-7.8,-7.7,-8.1,-8.0,-8.4,-8.2,-8.6,-8.4,-9.0,-8.7,-9.5],
  [-7.4,-7.7,-7.5,-7.9,-7.6,-7.9,-7.7,-8.0,-7.8,-7.6,-7.9,-8.1,-7.8,-8.0,-8.2,-7.8,-8.1,-7.9,-8.3,-8.5,-8.2,-8.7,-8.5,-9.0,-8.7,-9.3,-9.0],
  [-7.5,-7.8,-7.6,-7.8,-8.0,-7.7,-7.9,-8.0,-7.7,-8.1,-7.8,-8.0,-7.9,-8.4,-7.8,-8.1,-8.2,-8.0,-8.2,-8.6,-8.3,-8.8,-8.5,-8.9,-9.2,-8.8,-10.0],
  [-7.4,-7.6,-7.8,-7.6,-7.8,-7.9,-7.6,-7.9,-8.0,-7.8,-7.9,-7.7,-8.1,-7.9,-8.3,-8.0,-7.8,-8.1,-8.4,-8.1,-8.5,-8.3,-8.9,-8.6,-9.0,-8.7,-9.4],
  [-7.2,-7.4,-7.6,-7.3,-7.6,-7.5,-7.6,-7.7,-7.4,-7.7,-7.6,-7.8,-7.5,-7.8,-7.6,-7.9,-7.7,-7.9,-8.0,-8.2,-7.9,-8.4,-8.2,-8.6,-8.4,-8.8,-8.6],
  [-6.9,-7.1,-7.3,-7.0,-7.2,-7.3,-7.1,-7.3,-7.2,-7.4,-7.1,-7.3,-7.3,-7.2,-7.4,-7.3,-7.1,-7.4,-7.5,-7.5,-7.7,-7.6,-7.8,-8.0,-7.8,-8.1,-8.0],
  [-6.7,-6.8,-6.7,-6.9,-6.8,-7.0,-6.8,-6.9,-6.8,-7.0,-6.8,-6.9,-7.0,-6.8,-6.9,-6.8,-6.7,-6.8,-6.9,-7.1,-7.0,-7.2,-7.1,-7.3,-7.4,-7.3,-7.5],
  [-6.5,-6.6,-6.5,-6.7,-6.5,-6.6,-6.5,-6.7,-6.5,-6.6,-6.4,-6.5,-6.6,-6.5,-6.6,-6.4,-6.3,-6.5,-6.5,-6.7,-6.6,-6.8,-6.8,-6.7,-7.0,-6.9,-7.1],
  [-6.4,-6.4,-6.3,-6.5,-6.4,-6.3,-6.4,-6.3,-6.4,-6.3,-6.2,-6.4,-6.3,-6.2,-6.3,-6.3,-6.1,-6.2,-6.1,-6.3,-6.4,-6.5,-6.4,-6.5,-6.5,-6.6,-6.7],
  [-6.5,-6.4,-6.6,-6.4,-6.3,-6.4,-6.5,-6.3,-6.4,-6.4,-6.3,-6.2,-6.3,-6.5,-6.4,-6.4,-6.3,-6.2,-6.1,-6.3,-6.4,-6.2,-6.3,-6.3,-6.5,-6.4,-6.6],
  [-6.4,-6.5,-6.4,-6.2,-6.4,-6.2,-6.3,-6.4,-6.2,-6.2,-6.1,-6.3,-6.2,-6.2,-6.4,-6.4,-6.1,-6.0,-6.2,-6.1,-6.2,-6.2,-6.1,-6.3,-6.2,-6.4,-6.6],
  [-6.2,-6.3,-6.4,-6.1,-6.2,-6.3,-6.1,-6.2,-6.2,-6.0,-6.2,-6.1,-6.0,-6.3,-6.3,-6.1,-6.2,-5.8,-6.0,-6.2,-6.0,-6.2,-6.1,-6.0,-6.2,-6.4,-6.3],
  [-6.3,-6.1,-6.2,-6.2,-6.1,-6.0,-6.2,-6.0,-6.2,-6.0,-5.9,-6.0,-6.1,-6.1,-6.1,-6.2,-6.0,-5.7,-6.0,-6.0,-5.9,-6.0,-6.1,-5.9,-6.2,-6.2,-6.3],
  [-6.1,-6.0,-6.2,-6.0,-5.9,-6.0,-6.1,-5.9,-6.0,-6.0,-5.9,-5.8,-5.9,-6.1,-6.0,-6.0,-5.9,-5.8,-5.7,-5.9,-6.0,-5.8,-5.9,-5.9,-6.1,-6.0,-6.2],
  [-6.0,-6.1,-6.0,-5.8,-6.0,-5.8,-5.9,-6.0,-5.8,-5.8,-5.7,-5.9,-5.8,-5.8,-6.0,-6.0,-5.7,-5.6,-5.8,-5.7,-5.8,-5.8,-5.7,-5.9,-5.8,-6.0,-6.2],
  [-5.8,-5.9,-6.0,-5.7,-5.8,-5.9,-5.7,-5.8,-5.8,-5.6,-5.8,-5.7,-5.6,-5.9,-5.9,-5.7,-5.8,-5.4,-5.6,-5.8,-5.6,-5.8,-5.7,-5.6,-5.8,-6.0,-5.9],
  [-5.9,-5.7,-5.8,-5.8,-5.7,-5.6,-5.8,-5.6,-5.8,-5.6,-5.5,-5.6,-5.7,-5.7,-5.7,-5.8,-5.6,-5.3,-5.6,-5.6,-5.5,-5.6,-5.7,-5.5,-5.8,-5.8,-5.9],
  [-5.6,-5.5,-5.7,-5.5,-5.4,-5.5,-5.6,-5.4,-5.5,-5.5,-5.4,-5.3,-5.4,-5.6,-5.5,-5.5,-5.4,-5.3,-5.2,-5.4,-5.5,-5.3,-5.4,-5.4,-5.6,-5.5,-5.7],
  [-5.5,-5.6,-5.5,-5.3,-5.5,-5.3,-5.4,-5.5,-5.3,-5.3,-5.2,-5.4,-5.3,-5.3,-5.5,-5.5,-5.2,-5.1,-5.3,-5.2,-5.3,-5.3,-5.2,-5.4,-5.3,-5.5,-5.7],
  [-5.3,-5.4,-5.5,-5.2,-5.3,-5.4,-5.2,-5.3,-5.3,-5.1,-5.3,-5.2,-5.1,-5.4,-5.4,-5.2,-5.3,-4.9,-5.1,-5.3,-5.1,-5.3,-5.2,-5.1,-5.3,-5.5,-5.4],
  [-5.3,-5.1,-5.2,-5.2,-5.1,-5.0,-5.2,-5.0,-5.2,-5.0,-4.9,-5.0,-5.1,-5.1,-5.1,-5.2,-5.0,-4.7,-5.0,-5.0,-4.9,-5.0,-5.1,-4.9,-5.2,-5.2,-5.3],
  [-5.1,-5.0,-5.2,-5.0,-4.9,-5.0,-5.1,-4.9,-5.0,-5.0,-4.9,-4.8,-4.9,-5.1,-5.0,-5.0,-4.9,-4.8,-4.7,-4.9,-5.0,-4.8,-4.9,-4.9,-5.1,-5.0,-5.2],
  [-4.9,-5.0,-4.9,-4.7,-4.9,-4.7,-4.8,-4.9,-4.7,-4.7,-4.6,-4.8,-4.7,-4.7,-4.9,-4.9,-4.6,-4.5,-4.7,-4.6,-4.7,-4.7,-4.6,-4.8,-4.7,-4.9,-5.1],
  [-4.7,-4.8,-4.9,-4.6,-4.7,-4.8,-4.6,-4.7,-4.7,-4.5,-4.7,-4.6,-4.5,-4.8,-4.8,-4.6,-4.7,-4.3,-4.5,-4.7,-4.5,-4.7,-4.6,-4.5,-4.7,-4.9,-4.8],
  [-4.7,-4.5,-4.6,-4.6,-4.5,-4.4,-4.6,-4.4,-4.6,-4.4,-4.3,-4.4,-4.5,-4.5,-4.5,-4.6,-4.4,-4.1,-4.4,-4.4,-4.3,-4.4,-4.5,-4.3,-4.6,-4.6,-4.7],
  [-4.4,-4.3,-4.5,-4.3,-4.2,-4.3,-4.4,-4.2,-4.3,-4.3,-4.2,-4.1,-4.2,-4.4,-4.3,-4.3,-4.2,-4.1,-4.0,-4.2,-4.3,-4.1,-4.2,-4.2,-4.4,-4.3,-4.5],
  [-4.3,-4.4,-4.3,-4.1,-4.3,-4.1,-4.2,-4.3,-4.1,-4.1,-4.0,-4.2,-4.1,-4.1,-4.3,-4.3,-4.0,-3.9,-4.1,-4.0,-4.1,-4.1,-4.0,-4.2,-4.1,-4.3,-4.5],
  [-4.0,-4.1,-4.2,-3.9,-4.0,-4.1,-3.9,-4.0,-4.0,-3.8,-4.0,-3.9,-3.8,-4.1,-4.1,-3.9,-4.0,-3.6,-3.8,-4.0,-3.8,-4.0,-3.9,-3.8,-4.0,-4.2,-4.1],
  [-4.0,-3.8,-3.9,-3.9,-3.8,-3.7,-3.9,-3.7,-3.9,-3.7,-3.6,-3.7,-3.8,-3.8,-3.8,-3.9,-3.7,-3.4,-3.7,-3.7,-3.6,-3.7,-3.8,-3.6,-3.9,-3.9,-4.0],
  [-3.7,-3.6,-3.8,-3.7,-3.5,-3.6,-3.7,-3.5,-3.6,-3.7,-3.6,-3.5,-3.6,-3.7,-3.5,-3.6,-3.6,-3.6,-3.4,-3.6,-3.7,-3.5,-3.6,-3.6,-3.7,-3.6,-3.7],
  [-3.6,-3.7,-3.6,-3.5,-3.6,-3.4,-3.5,-3.6,-3.4,-3.5,-3.4,-3.6,-3.5,-3.4,-3.5,-3.6,-3.4,-3.4,-3.5,-3.4,-3.5,-3.5,-3.4,-3.6,-3.4,-3.6,-3.7],
  [-3.3,-3.4,-3.5,-3.3,-3.3,-3.4,-3.2,-3.3,-3.3,-3.2,-3.4,-3.3,-3.2,-3.4,-3.3,-3.2,-3.4,-3.1,-3.2,-3.4,-3.2,-3.4,-3.3,-3.2,-3.3,-3.5,-3.3],
  [-3.3,-3.1,-3.2,-3.3,-3.1,-3.0,-3.2,-3.0,-3.2,-3.1,-3.0,-3.1,-3.2,-3.1,-3.0,-3.2,-3.1,-2.9,-3.1,-3.1,-3.0,-3.1,-3.2,-3.0,-3.2,-3.2,-3.2],
  [-3.0,-2.9,-3.1,-3.0,-2.8,-2.9,-3.0,-2.8,-2.9,-3.0,-2.9,-2.8,-2.9,-3.0,-2.8,-2.9,-2.9,-2.9,-2.7,-2.9,-3.0,-2.8,-2.9,-2.9,-3.0,-2.9,-3.0],
  [-2.8,-2.9,-2.8,-2.7,-2.8,-2.6,-2.7,-2.8,-2.6,-2.7,-2.6,-2.8,-2.7,-2.6,-2.7,-2.8,-2.6,-2.6,-2.7,-2.6,-2.7,-2.7,-2.6,-2.8,-2.6,-2.8,-2.9],
  [-2.6,-2.7,-2.8,-2.6,-2.6,-2.7,-2.5,-2.6,-2.6,-2.5,-2.7,-2.6,-2.5,-2.7,-2.6,-2.5,-2.7,-2.4,-2.5,-2.7,-2.5,-2.7,-2.6,-2.5,-2.6,-2.8,-2.6],
  [-2.6,-2.4,-2.5,-2.6,-2.4,-2.3,-2.5,-2.3,-2.5,-2.4,-2.3,-2.4,-2.5,-2.4,-2.3,-2.5,-2.4,-2.2,-2.4,-2.4,-2.3,-2.4,-2.5,-2.3,-2.5,-2.5,-2.5],
  [-2.3,-2.2,-2.4,-2.3,-2.1,-2.2,-2.3,-2.1,-2.2,-2.3,-2.2,-2.1,-2.2,-2.3,-2.1,-2.2,-2.2,-2.2,-2.0,-2.2,-2.3,-2.1,-2.2,-2.2,-2.3,-2.2,-2.3],
  [-2.1,-2.2,-2.1,-2.0,-2.1,-1.9,-2.0,-2.1,-1.9,-2.0,-1.9,-2.1,-2.0,-1.9,-2.0,-2.1,-1.9,-1.9,-2.0,-1.9,-2.0,-2.0,-1.9,-2.1,-1.9,-2.1,-2.2],
  [-1.8,-1.9,-2.0,-1.8,-1.8,-1.9,-1.7,-1.8,-1.8,-1.7,-1.9,-1.8,-1.7,-1.9,-1.8,-1.7,-1.9,-1.6,-1.7,-1.9,-1.7,-1.9,-1.8,-1.7,-1.8,-2.0,-1.8],
  [-1.8,-1.6,-1.7,-1.8,-1.6,-1.5,-1.7,-1.5,-1.7,-1.6,-1.5,-1.6,-1.7,-1.6,-1.5,-1.7,-1.6,-1.4,-1.6,-1.6,-1.5,-1.6,-1.7,-1.5,-1.7,-1.7,-1.7],
  [-1.6,-1.5,-1.7,-1.6,-1.4,-1.5,-1.6,-1.4,-1.5,-1.6,-1.5,-1.4,-1.5,-1.6,-1.4,-1.5,-1.5,-1.5,-1.3,-1.5,-1.6,-1.4,-1.5,-1.5,-1.6,-1.5,-1.6],
  [-1.3,-1.3,-1.2,-1.1,-1.3,-1.2,-1.2,-1.3,-1.1,-1.2,-1.3,-1.3,-1.2,-1.3,-1.3,-1.3,-1.2,-1.2,-1.1,-1.1,-1.1,-1.1,-1.1,-1.2,-1.3,-1.1,-1.1],
  [-1.3,-1.2,-1.0,-1.0,-1.2,-1.1,-1.0,-1.2,-1.0,-1.1,-1.2,-1.2,-1.1,-1.2,-1.3,-1.2,-1.1,-1.1,-1.0,-1.0,-1.0,-1.0,-1.0,-1.1,-1.4,-1.0,-1.0],
  [-1.2,-1.1,-0.9,-0.8,-1.1,-1.0,-0.9,-1.1,-0.9,-1.0,-1.1,-1.1,-1.0,-1.1,-1.2,-1.1,-1.0,-1.0,-0.9,-0.9,-0.9,-0.9,-0.9,-1.1,-1.2,-0.9,-0.9],
  [-1.1,-1.0,-0.7,-0.6,-1.0,-0.9,-0.7,-1.0,-0.7,-0.9,-1.0,-1.0,-0.8,-1.0,-1.1,-1.0,-0.9,-0.9,-0.8,-0.8,-0.7,-0.8,-0.8,-1.0,-1.5,-0.7,-0.7],
  [-1.0,-0.9,-0.6,-0.5,-0.9,-0.8,-0.6,-0.9,-0.6,-0.8,-1.0,-1.0,-0.7,-1.0,-1.1,-0.9,-0.9,-0.8,-0.7,-0.7,-0.6,-0.7,-0.7,-1.0,-1.2,-0.6,-0.6],
  [-0.9,-0.7,-0.4,-0.3,-0.8,-0.6,-0.3,-0.8,-0.3,-0.7,-0.9,-0.9,-0.4,-0.9,-1.0,-0.7,-0.8,-0.6,-0.5,-0.5,-0.4,-0.5,-0.5,-1.0,-1.6,-0.4,-0.4],
  [-0.8,-0.5,-0.1,0.0,-0.6,-0.4,0.0,-0.6,0.0,-0.5,-0.8,-0.8,-0.1,-0.8,-0.9,-0.5,-0.7,-0.5,-0.3,-0.3,-0.2,-0.3,-0.3,-1.0,-2.0,-0.2,-0.1],
  [-0.6,-0.3,0.2,0.3,-0.4,-0.2,0.3,-0.5,0.3,-0.3,-0.6,-0.7,0.2,-0.7,-0.8,-0.3,-0.6,-0.3,-0.1,-0.1,0.0,-0.1,-0.1,-0.9,-0.6,0.1,0.2],
  [-0.4,0.0,0.5,0.6,-0.2,0.1,0.6,-0.3,0.6,0.0,-0.3,-0.5,0.5,-0.5,-0.7,0.0,-0.4,-0.1,0.1,0.1,0.2,0.1,0.1,-0.7,-0.2,0.4,0.5],
  [-0.1,0.3,0.9,0.9,0.2,0.5,0.9,0.0,1.0,0.5,0.0,-0.2,0.9,-0.3,-0.4,0.3,-0.2,0.2,0.4,0.4,0.4,0.3,0.4,-0.5,0.2,0.7,0.9],
  [0.4,0.5,1.0,0.6,0.8,1.8,0.6,0.4,0.9,1.8,0.3,0.2,1.8,0.0,0.2,0.1,0.5,0.7,1.2,1.8,1.8,1.8,1.8,-0.3,0.4,1.0,1.8]
];

const FONT = '"Liberation Sans", Arial, Helvetica, sans-serif';

// R's rainbow(126): hue = age / 126, full saturation and value
function rainbowColor(age) {
    const h = (age / 126) * 6;
    const i = Math.floor(h);
    const f = h - i;
    let r, g, b;
    switch (i % 6) {
        case 0: r = 1; g = f; b = 0; break;
        case 1: r = 1 - f; g = 1; b = 0; break;
        case 2: r = 0; g = 1; b = f; break;
        case 3: r = 0; g = 1 - f; b = 1; break;
        case 4: r = f; g = 0; b = 1; break;
        default: r = 1; g = 0; b = 1 - f;
    }
    return 'rgb(' + Math.round(r * 255) + ',' + Math.round(g * 255) + ',' + Math.round(b * 255) + ')';
}

function buildDatasets(rates) {
    return ages.map(function (age, k) {
        return {
            label: 'Age ' + age,
            data: years.map(function (yr, i) { return { x: yr, y: rates[k][i] }; }),
            borderColor: rainbowColor(age),
            borderWidth: 1.6,
            pointRadius: 0,
            tension: 0,
            fill: false,
            order: -age // older ages painted on top, like R's matplot
        };
    });
}

// frame, ticks and labels drawn R-style around the plot region
const rAxesPlugin = {
    id: 'rAxes',
    afterDraw: function (chart, args, opts) {
        const ctx = chart.ctx;
        const area = chart.chartArea;
        const xs = chart.scales.x;
        const ys = chart.scales.y;
        const midX = (area.left + area.right) / 2;

        ctx.save();
        ctx.strokeStyle = '#2b2b2b';
        ctx.fillStyle = '#111';
        ctx.lineWidth = 1.4;
        ctx.strokeRect(area.left, area.top, area.right - area.left, area.bottom - area.top);

        ctx.beginPath();
        yTicks.forEach(function (v) {
            const y = Math.round(ys.getPixelForValue(v)) + 0.5;
            ctx.moveTo(area.left - 7, y);
            ctx.lineTo(area.left, y);
        });
        xTicks.forEach(function (v) {
            const x = Math.round(xs.getPixelForValue(v)) + 0.5;
            ctx.moveTo(x, area.bottom);
            ctx.lineTo(x, area.bottom + 7);
        });
        ctx.stroke();

        ctx.textAlign = 'center';
        ctx.textBaseline = 'middle';
        ctx.font = '14.5px ' + FONT;
        yTicks.forEach(function (v) {
            ctx.save();
            ctx.translate(area.left - 26, ys.getPixelForValue(v));
            ctx.rotate(-Math.PI / 2);
            ctx.fillText(String(v), 0, 0);
            ctx.restore();
        });
        xTicks.forEach(function (v, i) {
            if (xTickLabels[i]) ctx.fillText(xTickLabels[i], xs.getPixelForValue(v), area.bottom + 28);
        });

        ctx.font = '15px ' + FONT;
        ctx.fillText('Years', midX, area.bottom + 61);
        ctx.save();
        ctx.translate(area.left - 58, (area.top + area.bottom) / 2);
        ctx.rotate(-Math.PI / 2);
        ctx.fillText('Log death rate', 0, 0);
        ctx.restore();

        ctx.font = 'bold 17.5px ' + FONT;
        ctx.fillText(opts.title, midX, 13);
        ctx.restore();
    }
};

function makePanel(canvasId, rates, title, yMin, yMax) {
    const ctx = document.getElementById(canvasId).getContext('2d');
    return new Chart(ctx, {
        type: 'line',
        data: { datasets: buildDatasets(rates) },
        options: {
            responsive: false,
            animation: false,
            devicePixelRatio: 1,
            events: [],
            layout: { padding: { left: 75, right: 31, top: 45, bottom: 75 } },
            plugins: {
                legend: { display: false },
                tooltip: { enabled: false },
                rAxes: { title: title }
            },
            scales: {
                x: { type: 'linear', min: 1956.92, max: 2013.08, display: false },
                y: { type: 'linear', min: yMin, max: yMax, display: false }
            }
        },
        plugins: [rAxesPlugin]
    });
}

document.addEventListener('DOMContentLoaded', function () {
    makePanel('maleChart', maleRates, 'Male rates', -10.29, 2.30);
    makePanel('femaleChart', femaleRates, 'Female rates', -10.62, 2.28);
    makePanel('totalChart', totalRates, 'Total rates', -10.66, 2.28);
});
</script>
</body>
</html>
